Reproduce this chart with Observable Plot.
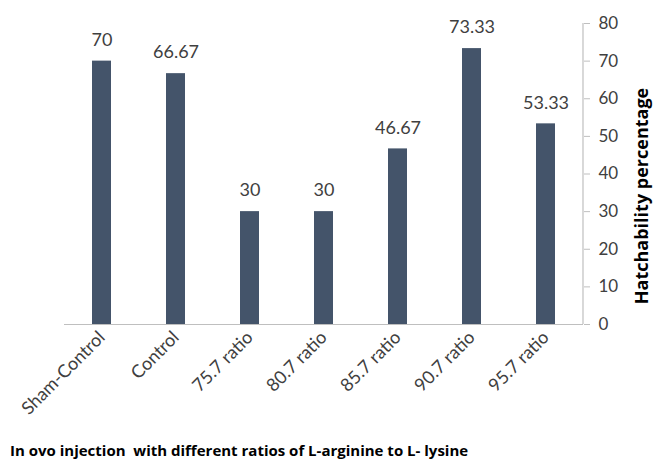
<!DOCTYPE html>
<html>
<head>
<meta charset="utf-8">
<script src="https://cdn.jsdelivr.net/npm/d3@7"></script>
<script src="https://cdn.jsdelivr.net/npm/@observablehq/plot@0.6"></script>
<style>
  body { margin: 0; background: #fff; font-family: Lato, "Open Sans", sans-serif; }
  #chart { width: 654px; }
  .caption { font-family: "Open Sans", Lato, sans-serif; font-weight: bold; font-size: 15px; color: #000; margin: 0 0 0 10px; }
</style>
</head>
<body>
<div id="chart"></div>
<script>
const categories = ["Sham-Control", "Control", "75.7 ratio", "80.7 ratio", "85.7 ratio", "90.7 ratio", "95.7 ratio"];
const values = [70, 66.67, 30, 30, 46.67, 73.33, 53.33];
const yTicks = [0, 10, 20, 30, 40, 50, 60, 70, 80];

const data = categories.map((c, i) => ({category: c, value: values[i]}));

const plot = Plot.plot({
  width: 654,
  height: 440,
  marginLeft: 64,
  marginRight: 71,
  marginTop: 23,
  marginBottom: 116,
  style: {fontFamily: "Lato, sans-serif", color: "#404040", background: "#fff"},
  x: {domain: categories, paddingInner: 0.75, paddingOuter: 0.375, align: 0.5, label: null},
  y: {domain: [0, 80], label: null},
  marks: [
    Plot.barY(data, {x: "category", y: "value", fill: "#44546A"}),
    Plot.ruleY([0], {stroke: "#bfbfbf", strokeWidth: 1.2}),
    Plot.axisY({anchor: "right", ticks: yTicks, tickSize: 6, tickPadding: 9, fontSize: 17, stroke: "#bfbfbf", fill: "#404040", label: null}),
    Plot.axisX({tickSize: 0, tickRotate: -45, tickPadding: 10, fontSize: 18, fill: "#404040", label: null}),
    Plot.text(data, {x: "category", y: "value", text: d => String(d.value), dy: -21, fontSize: 18, fill: "#404040"}),
    Plot.text(["Hatchability percentage"], {frameAnchor: "right", textAnchor: "middle", dx: 59, dy: 22, rotate: -90, fontSize: 18, fontWeight: "bold", fontFamily: "Open Sans, sans-serif", fill: "#000"})
  ]
});

// right axis vertical line
const svg = d3.select(plot);
svg.append("line")
  .attr("x1", 583).attr("x2", 583)
  .attr("y1", 23).attr("y2", 324)
  .attr("stroke", "#bfbfbf").attr("stroke-width", 1.2);

document.getElementById("chart").appendChild(plot);
const cap = document.createElement("div");
cap.className = "caption";
cap.textContent = "In ovo injection  with different ratios of L-arginine to L- lysine";
cap.style.whiteSpace = "pre";
document.getElementById("chart").appendChild(cap);
</script>
</body>
</html>
